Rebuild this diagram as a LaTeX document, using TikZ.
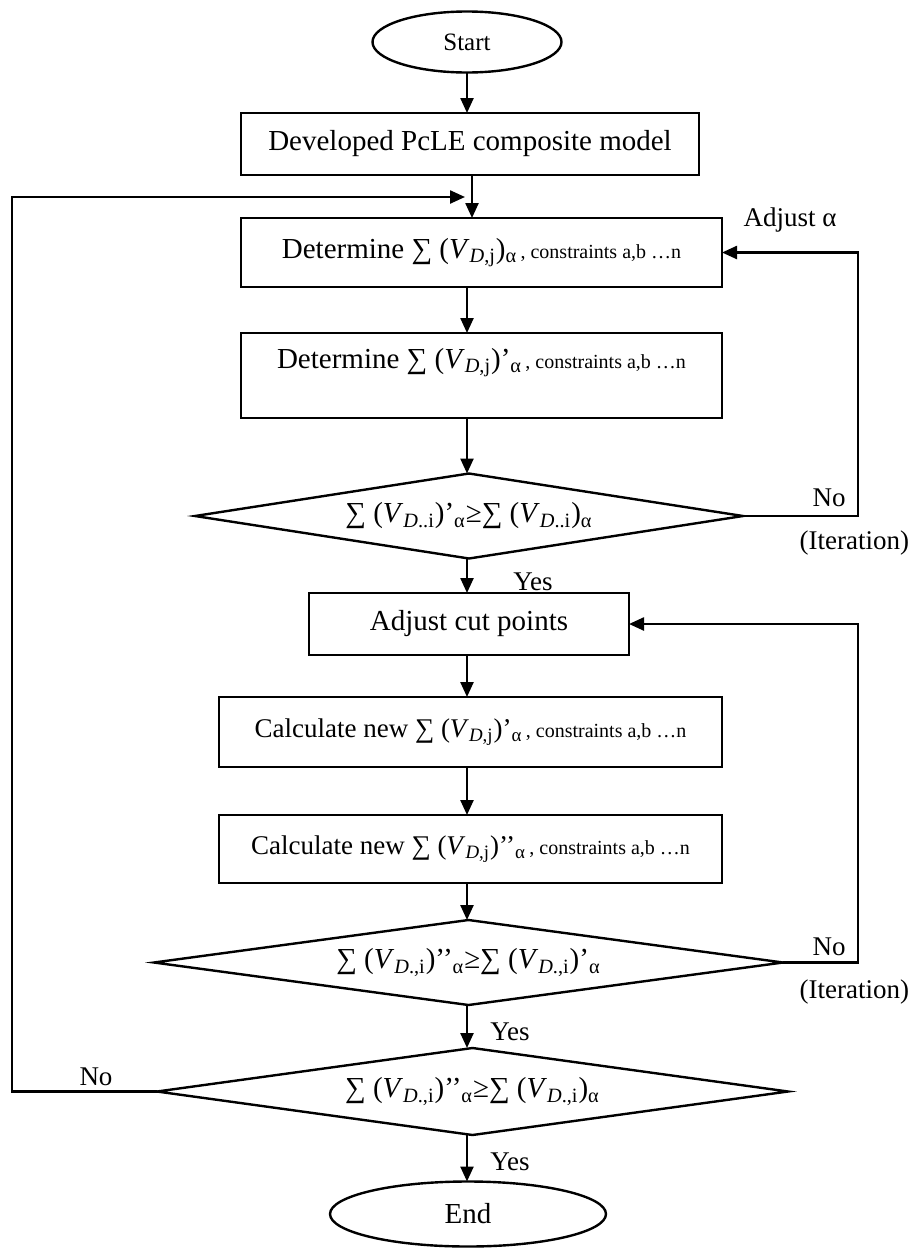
\documentclass[tikz,border=0pt]{standalone}
\usepackage{fontspec}
\setmainfont{Liberation Serif}
\usetikzlibrary{shapes.geometric,arrows.meta}

% font sizes used in the chart
\newcommand{\fmain}{\fontsize{14.5}{17}\selectfont}
\newcommand{\fcalc}{\fontsize{13.5}{16}\selectfont}
\newcommand{\fsmall}{\fontsize{10}{12}\selectfont}
\newcommand{\fterm}{\fontsize{12.5}{15}\selectfont}
\newcommand{\fend}{\fontsize{14.5}{17}\selectfont}
\newcommand{\flabel}{\fontsize{13.5}{16}\selectfont}
% the summed quantity V with its subscript
\newcommand{\Vd}[1]{\textit{V}\textsubscript{\textit{D}#1}}

\tikzset{
  every node/.style={inner sep=0pt, outer sep=0pt},
  terminal/.style={ellipse, draw, line width=1.2pt, font=\fterm},
  procbox/.style={rectangle, draw, line width=1.2pt, font=\fmain},
  decision/.style={diamond, draw, line width=1.2pt, font=\fmain},
  lbl/.style={font=\flabel},
  arr/.style={line width=1.2pt, -{Triangle[length=7.5pt,width=6.5pt]}}
}

\begin{document}
\begin{tikzpicture}[x=0.5pt, y=-0.5pt]
  \useasboundingbox[fill=white] (0,0) rectangle (909,1248);

  % main column
  \node[terminal, minimum width=94.5pt, minimum height=30.5pt] (start) at (467,42) {Start};
  \node[procbox, minimum width=229pt, minimum height=31pt] (dev) at (470,144)
    {Developed PcLE composite model};
  \node[procbox, minimum width=240.5pt, minimum height=34.5pt] (det1) at (481.5,252.5)
    {Determine ∑ (\Vd{,j})\textsubscript{α}{\fsmall\,, constraints a,b …n}};
  \node[procbox, minimum width=240.5pt, minimum height=42.5pt, text depth=17pt] (det2) at (481.5,375.5)
    {Determine ∑ (\Vd{,j})’\textsubscript{α}{\fsmall\,, constraints a,b …n}};
  \node[decision, aspect=6.45, minimum width=274pt, minimum height=42.5pt] (dec1) at (469,516)
    {∑ (\Vd{..i})’\textsubscript{α}≥∑ (\Vd{..i})\textsubscript{α}};
  \node[procbox, minimum width=160pt, minimum height=31pt] (adj) at (469,624)
    {Adjust cut points};
  \node[procbox, font=\fcalc, minimum width=251.5pt, minimum height=35pt] (calc1) at (470.5,732)
    {Calculate new ∑ (\Vd{,j})’\textsubscript{α}{\fsmall\,, constraints a,b …n}};
  \node[procbox, font=\fcalc, minimum width=251.5pt, minimum height=34pt] (calc2) at (470.5,849)
    {Calculate new ∑ (\Vd{,j})’’\textsubscript{α}{\fsmall\,, constraints a,b …n}};
  \node[decision, aspect=7.4, minimum width=314.5pt, minimum height=42.5pt] (dec2) at (468.5,962.5)
    {∑ (\Vd{.,i})’’\textsubscript{α}≥∑ (\Vd{.,i})’\textsubscript{α}};
  \node[decision, aspect=7.25, minimum width=315.5pt, minimum height=43.5pt] (dec3) at (472.5,1091.5)
    {∑ (\Vd{.,i})’’\textsubscript{α}≥∑ (\Vd{.,i})\textsubscript{α}};
  \node[terminal, font=\fend, minimum width=138pt, minimum height=32.5pt] (end) at (468,1214) {End};

  % branch labels
  \node[lbl] (lblAdj) at (790,220) {Adjust α};
  \node[lbl] (lblNo1) at (829,498) {No};
  \node[lbl, anchor=east] (lblIt1) at (909,543) {(Iteration)};
  \node[lbl] (lblYes1) at (533,582) {Yes};
  \node[lbl] (lblNo2) at (829,947) {No};
  \node[lbl, anchor=east] (lblIt2) at (909,992) {(Iteration)};
  \node[lbl] (lblYes2) at (510,1032) {Yes};
  \node[lbl] (lblNo3) at (96,1077) {No};
  \node[lbl] (lblYes3) at (510,1162) {Yes};

  % guide coordinates for the vertical flow and the loops
  \coordinate (axis) at (467,0);
  \coordinate (axisB) at (472,0);
  \coordinate (loopL) at (12,197);
  \coordinate (joinL) at (465,197);
  \coordinate (loopR1) at (858,252.5);
  \coordinate (loopR2) at (858,624);

  % downward flow
  \draw[arr] (start.south -| axis) -- (dev.north -| axis);
  \draw[arr] (dev.south -| axisB) -- (det1.north -| axisB);
  \draw[arr] (det1.south -| axis) -- (det2.north -| axis);
  \draw[arr] (det2.south -| axis) -- (dec1.north -| axis);
  \draw[arr] (dec1.south -| axis) -- (adj.north -| axis);
  \draw[arr] (adj.south -| axis) -- (calc1.north -| axis);
  \draw[arr] (calc1.south -| axis) -- (calc2.north -| axis);
  \draw[arr] (calc2.south -| axis) -- (dec2.north -| axis);
  \draw[arr] (dec2.south -| axis) -- (dec3.north -| axis);
  \draw[arr] (dec3.south -| axis) -- (end.north -| axis);

  % iteration loops
  \draw[arr] (dec1.east) -| (loopR1) -- (det1.east);
  \draw[arr] (dec2.east) -| (loopR2) -- (adj.east);
  \draw[arr] (dec3.west) -| (loopL) -- (joinL);
\end{tikzpicture}
\end{document}
